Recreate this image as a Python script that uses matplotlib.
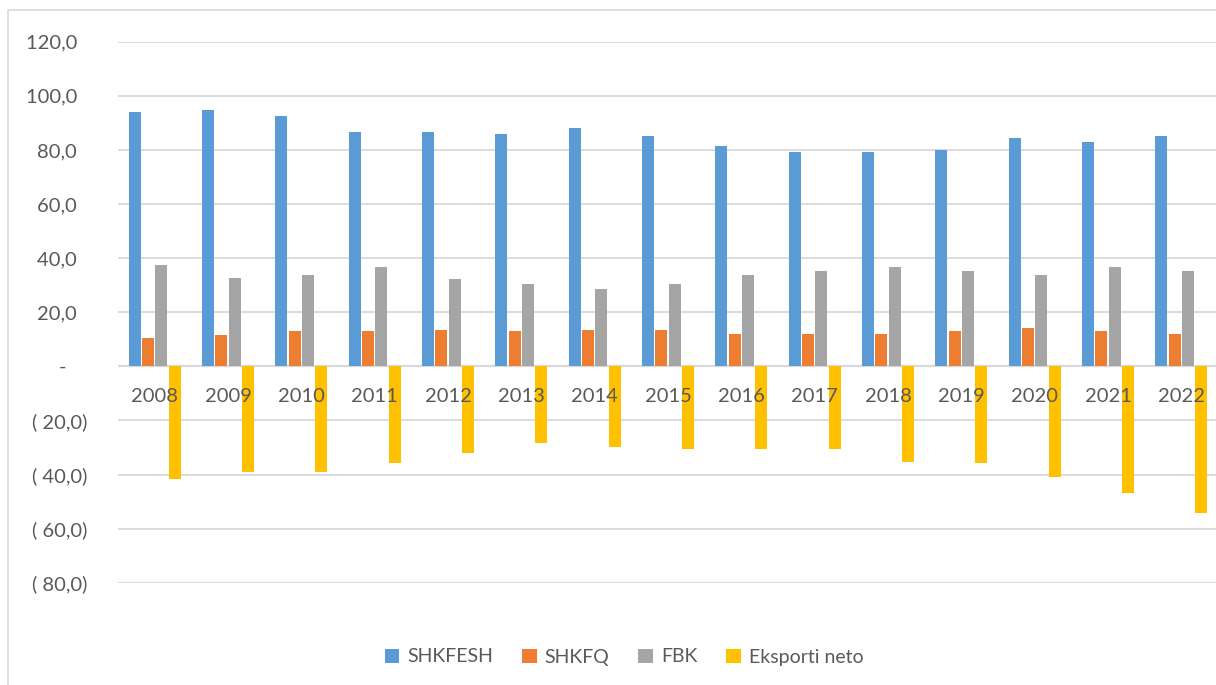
import numpy as np
import matplotlib.pyplot as plt
from matplotlib.patches import Rectangle

years = ['2008', '2009', '2010', '2011', '2012', '2013', '2014', '2015',
         '2016', '2017', '2018', '2019', '2020', '2021', '2022']
shkfesh = [94.0, 94.8, 92.6, 86.7, 86.7, 85.9, 88.1, 85.2, 81.5, 79.3, 79.3, 80.0, 84.4, 83.0, 85.2]
shkfq = [10.6, 11.4, 12.9, 12.9, 13.6, 12.9, 13.6, 13.6, 12.1, 12.1, 12.1, 12.9, 14.3, 12.9, 12.1]
fbk = [37.3, 32.8, 33.6, 36.6, 32.1, 30.6, 28.4, 30.6, 33.6, 35.1, 36.6, 35.1, 33.6, 36.6, 35.1]
eksporti = [-41.7, -38.9, -38.9, -35.9, -32.2, -28.5, -30.0, -30.7, -30.7, -30.7, -35.2, -35.9, -41.1, -47.0, -54.4]

series_names = ['SHKFESH', 'SHKFQ', 'FBK', 'Eksporti neto']
colors = ['#5B9BD5', '#ED7D31', '#A5A5A5', '#FFC000']
yticks = [-80, -60, -40, -20, 0, 20, 40, 60, 80, 100, 120]

plt.rcParams['font.family'] = ['Lato', 'DejaVu Sans']
txt = '#595959'


def acct(v):
    # excel accounting style labels
    if v == 0:
        return '-    '
    s = ('%.1f' % abs(v)).replace('.', ',')
    if v < 0:
        return '( ' + s + ')'
    return s + '  '


fig = plt.figure(figsize=(12.16, 6.85), dpi=100)
fig.patches.append(Rectangle((8 / 1216, -0.1), 1.2, 1 - 10 / 685 + 0.1,
                             transform=fig.transFigure, fill=False,
                             edgecolor='#d9d9d9', lw=1.2, zorder=0))

ax = fig.add_axes([118 / 1216, (685 - 582.7) / 685, 1100 / 1216, 541 / 685])

x = np.arange(len(years))
step = 0.182
data = [shkfesh, shkfq, fbk, eksporti]
for k, (vals, name, c) in enumerate(zip(data, series_names, colors)):
    ax.bar(x + (k - 1.5) * step, vals, width=0.16, color=c, label=name, zorder=2)

ax.set_xlim(-0.5, len(years) - 0.5)
ax.set_ylim(-80, 120)
ax.set_yticks(yticks)
ax.set_yticklabels([acct(v) for v in yticks])
ax.tick_params(axis='y', length=0, pad=22, labelsize=14.5, labelcolor=txt)
ax.tick_params(axis='x', length=0, labelbottom=False)
ax.grid(axis='y', color='#d9d9d9', lw=1.3, zorder=0)
ax.axhline(0, color='#d9d9d9', lw=1.6, zorder=1)
for sp in ax.spines.values():
    sp.set_visible(False)

for i, yr in enumerate(years):
    ax.annotate(yr, xy=(i, 0), xytext=(0, -22), textcoords='offset points',
                ha='center', va='center', fontsize=14.5, color=txt, zorder=5)

ax.legend(loc='center', bbox_to_anchor=(624 / 1216, 1 - 657 / 685),
          bbox_transform=fig.transFigure, ncol=4, frameon=False,
          fontsize=14, labelcolor=txt, handlelength=0.75, handleheight=0.75,
          handletextpad=0.4, columnspacing=1.5)

fig.savefig('out.png', dpi=100)
